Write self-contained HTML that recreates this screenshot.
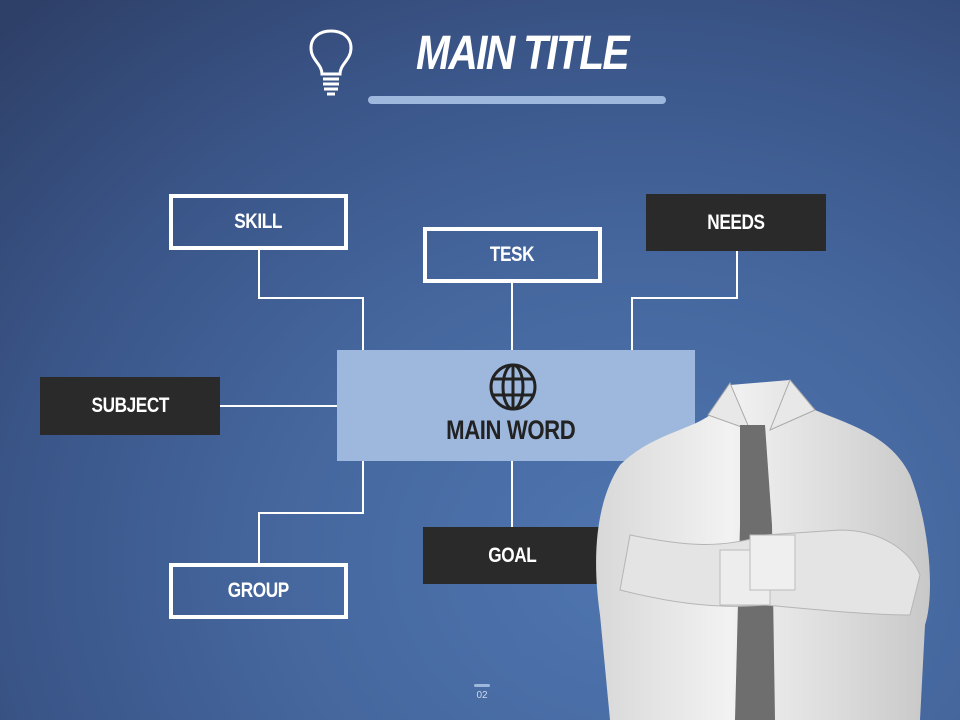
<!DOCTYPE html>
<html><head><meta charset="utf-8"><style>
*{margin:0;padding:0;box-sizing:border-box}
body{width:960px;height:720px;overflow:hidden;position:relative;font-family:"Liberation Sans",sans-serif;
background:radial-gradient(ellipse 900px 750px at 640px 560px,#4f75b0 0%,#45679e 40%,#3a5588 70%,#2e4068 100%)}
.b{position:absolute;display:flex;align-items:center;justify-content:center;color:#fff;font-weight:bold;font-size:21px;letter-spacing:-0.5px}
.b span{display:inline-block;transform:scaleX(0.82)}
.o{border:4px solid #fff}
.f{background:#2a2a2a}
.l{position:absolute;background:#fff}
.t{position:absolute;left:392px;top:28px;width:260px;text-align:center;color:#fff;font-weight:bold;font-style:italic;font-size:48px;letter-spacing:-2px;white-space:nowrap;line-height:52px;transform:scaleX(0.85)}
</style></head><body>
<svg style="position:absolute;left:306px;top:28px" width="50" height="72" viewBox="0 0 50 72">
<path d="M16 46 C16 36 5 32 5 20 C5 9 14 3 25 3 C36 3 45 9 45 20 C45 32 34 36 34 46 Z" fill="none" stroke="#fff" stroke-width="3"/>
<path d="M17 51 H33 M17 56 H33 M18 61 H32 M21 66 H29" stroke="#fff" stroke-width="3"/>
</svg>
<div class="t">MAIN TITLE</div>
<div style="position:absolute;left:368px;top:96px;width:298px;height:8px;border-radius:4px;background:#9db8dc"></div>

<div class="l" style="left:258px;top:250px;width:2px;height:49px"></div>
<div class="l" style="left:258px;top:297px;width:106px;height:2px"></div>
<div class="l" style="left:362px;top:297px;width:2px;height:53px"></div>
<div class="l" style="left:511px;top:283px;width:2px;height:67px"></div>
<div class="l" style="left:736px;top:251px;width:2px;height:48px"></div>
<div class="l" style="left:631px;top:297px;width:107px;height:2px"></div>
<div class="l" style="left:631px;top:297px;width:2px;height:53px"></div>
<div class="l" style="left:220px;top:405px;width:117px;height:2px"></div>
<div class="l" style="left:362px;top:461px;width:2px;height:53px"></div>
<div class="l" style="left:258px;top:512px;width:106px;height:2px"></div>
<div class="l" style="left:258px;top:512px;width:2px;height:51px"></div>
<div class="l" style="left:511px;top:461px;width:2px;height:66px"></div>

<div class="b o" style="left:169px;top:194px;width:179px;height:56px"><span>SKILL</span></div>
<div class="b o" style="left:423px;top:227px;width:179px;height:56px"><span>TESK</span></div>
<div class="b f" style="left:646px;top:194px;width:180px;height:57px"><span>NEEDS</span></div>
<div class="b f" style="left:40px;top:377px;width:180px;height:58px"><span>SUBJECT</span></div>
<div class="b f" style="left:423px;top:527px;width:179px;height:57px"><span>GOAL</span></div>
<div class="b o" style="left:169px;top:563px;width:179px;height:56px"><span>GROUP</span></div>

<div style="position:absolute;left:337px;top:350px;width:358px;height:111px;background:#9db8dc"></div>
<svg style="position:absolute;left:487px;top:362px" width="52" height="50" viewBox="0 0 52 50">
<g fill="none" stroke="#222" stroke-width="3"><circle cx="26" cy="25" r="22"/><ellipse cx="26" cy="25" rx="10" ry="22"/><path d="M26 3V47M5 17H47M5 33H47"/></g>
</svg>
<div class="b" style="left:337px;top:412px;width:348px;height:36px;color:#222;font-size:27px;letter-spacing:-0.5px"><span>MAIN WORD</span></div>

<svg style="position:absolute;left:590px;top:375px" width="345" height="345" viewBox="0 0 345 345">
<defs><linearGradient id="s" x1="0" x2="1"><stop offset="0" stop-color="#d8d8d8"/><stop offset=".4" stop-color="#f2f2f2"/><stop offset="1" stop-color="#c8c8c8"/></linearGradient></defs>
<path d="M30 90 C60 60 100 55 120 40 L140 10 L200 5 L225 35 C260 50 300 60 320 100 C340 150 345 220 335 250 L330 345 L20 345 L10 240 C0 170 10 120 30 90Z" fill="url(#s)"/>
<path d="M118 40 L140 8 L160 55 Z M225 35 L200 5 L180 55Z" fill="#e8e8e8" stroke="#aaa"/>
<path d="M150 50 L175 50 L182 150 L185 345 L145 345 L150 150Z" fill="#6e6e6e"/>
<path d="M40 160 C90 170 130 175 175 160 L250 155 C290 155 320 175 330 200 L320 240 C280 240 230 235 175 230 C120 235 70 225 30 215Z" fill="#e4e4e4" stroke="#b5b5b5"/>
<rect x="130" y="175" width="50" height="55" fill="#ededed" stroke="#bbb"/>
<rect x="160" y="160" width="45" height="55" fill="#efefef" stroke="#bbb"/>
</svg>

<div style="position:absolute;left:474px;top:684px;width:16px;height:3px;background:#9db8dc;border-radius:2px"></div>
<div style="position:absolute;left:472px;top:690px;width:20px;text-align:center;color:#cfd9ea;font-size:10px">02</div>
</body></html>
